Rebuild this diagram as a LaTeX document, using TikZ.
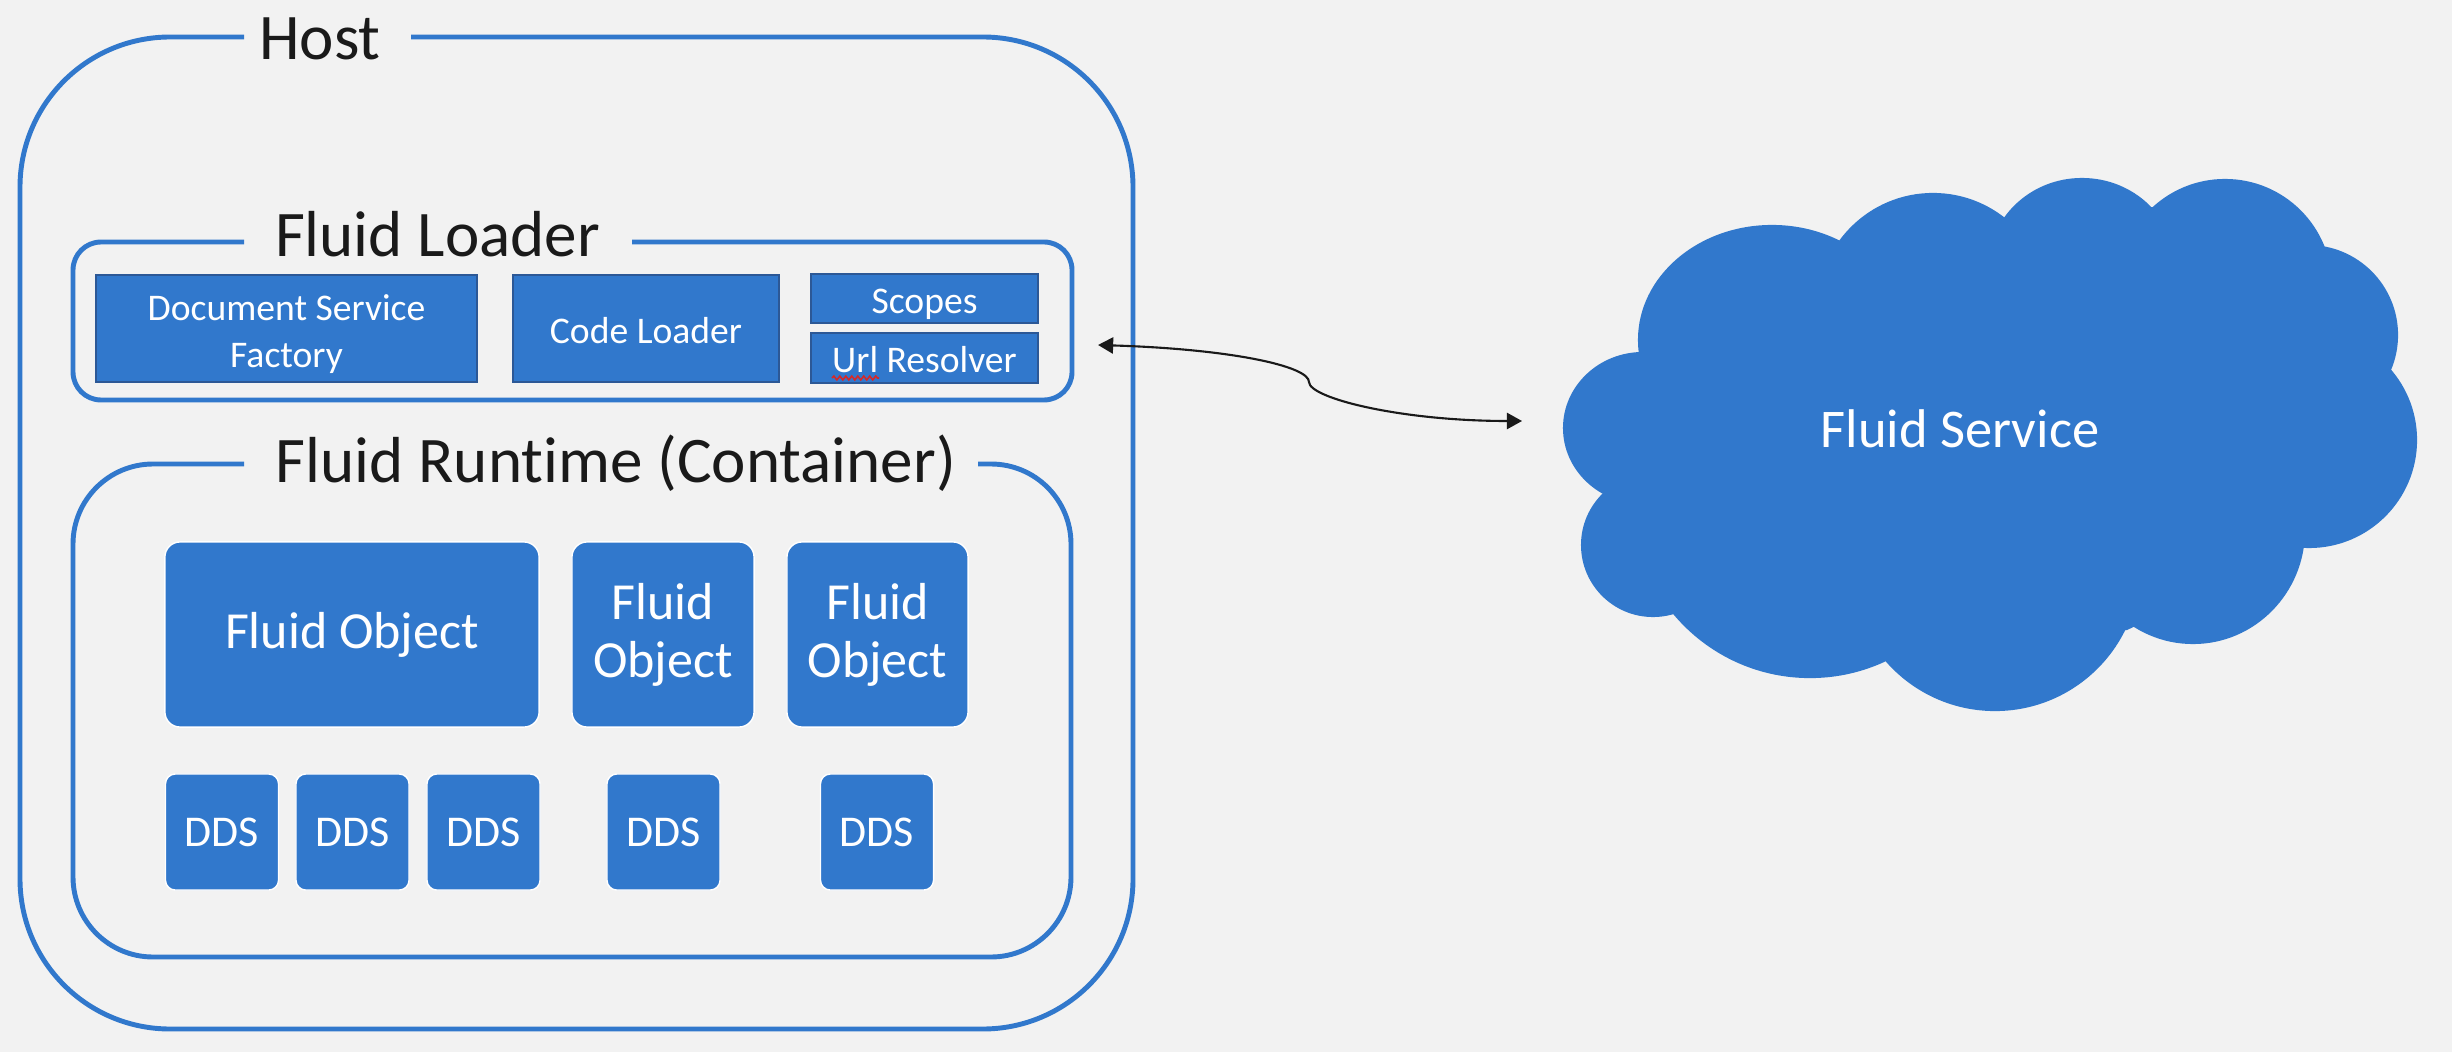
\documentclass[tikz,border=0pt]{standalone}
\usepackage{fontspec}
\setmainfont{Carlito}[Ligatures=NoCommon]
\usetikzlibrary{arrows.meta,decorations.pathmorphing}
\definecolor{fblue}{RGB}{49,120,204}
\definecolor{fdark}{RGB}{44,88,150}
\definecolor{fbg}{RGB}{242,242,242}
\definecolor{ftext}{RGB}{26,26,26}
\definecolor{fred}{RGB}{215,40,40}
\begin{document}
\begin{tikzpicture}[x=0.01cm,y=-0.01cm,
  frame/.style={draw=fblue,line width=1.4pt},
  title/.style={anchor=base,inner sep=0pt,text=ftext,font=\fontsize{18.5}{22}\selectfont},
  loaderbox/.style={draw=fdark,line width=0.6pt,fill=fblue,text=white,inner sep=0pt,align=center,
    text height=8.3pt,text depth=0pt,font=\fontsize{10.7}{13.4}\selectfont},
  boxtext/.style={text=white,inner sep=0pt,align=center,font=\fontsize{10.7}{13.4}\selectfont},
  fobox/.style={draw=white,line width=0.4pt,fill=fblue,text=white,rounded corners=4.3pt,inner sep=0pt,
    align=center,minimum height=1.85cm,font=\fontsize{14.8}{16.5}\selectfont},
  ddsbox/.style={draw=white,line width=0.4pt,fill=fblue,text=white,rounded corners=2.8pt,inner sep=0pt,
    minimum width=1.13cm,minimum height=1.16cm,font=\fontsize{12.5}{15}\selectfont},
  link/.style={draw=ftext,line width=0.6pt,{Triangle[length=4.3pt,width=4.6pt]}-{Triangle[length=4.3pt,width=4.6pt]}}
]
% background / bounding box
\fill[fbg] (0,0) rectangle (2452,1052);
\useasboundingbox (0,0) rectangle (2452,1052);

% Host container
\draw[frame,rounded corners=1.5cm] (411,37) -- (1133,37) -- (1133,1029) -- (20,1029) -- (20,37) -- (244,37);
\node[title] (host) at (320,60) {Host};

% Fluid Loader container
\draw[frame,rounded corners=0.28cm] (632,242) -- (1072,242) -- (1072,400) -- (73,400) -- (73,242) -- (244,242);
\node[title] (loadertitle) at (437.5,257) {Fluid Loader};

\node[loaderbox,minimum width=3.81cm,minimum height=1.07cm] (dsf) at (286.5,328.5) {};
\node[boxtext] (dsftext) at ([yshift=-1.7pt]dsf.center) {Document Service\\Factory};
\node[loaderbox,minimum width=2.66cm,minimum height=1.07cm] (codeloader) at (646,328.5) {Code Loader};
\node[loaderbox,minimum width=2.27cm,minimum height=0.49cm] (scopes) at (924.5,298.5) {Scopes};
\node[loaderbox,minimum width=2.27cm,minimum height=0.50cm] (urlres) at (924.5,358) {Url Resolver};
\draw[fred,line width=0.45pt,decorate,decoration={snake,amplitude=0.55pt,segment length=1.7pt}]
  (832,378) -- (879,378);

% Fluid Runtime container
\draw[frame,rounded corners=0.8cm] (978,464) -- (1071,464) -- (1071,957) -- (73,957) -- (73,464) -- (244,464);
\node[title] (runtimetitle) at (616,482) {Fluid Runtime (Container)};

\node[fobox,minimum width=3.74cm] (fo1) at (352,634.5) {Fluid Object};
\node[fobox,minimum width=1.82cm] (fo2) at (663,634.5) {Fluid\\Object};
\node[fobox,minimum width=1.81cm] (fo3) at (877.5,634.5) {Fluid\\Object};

\node[ddsbox] (dds1) at (222,832) {DDS};
\node[ddsbox] (dds2) at (352.5,832) {DDS};
\node[ddsbox] (dds3) at (483.5,832) {DDS};
\node[ddsbox] (dds4) at (663.5,832) {DDS};
\node[ddsbox] (dds5) at (877,832) {DDS};

% Cloud: union of lobes and a core polygon through the cusps
\begin{scope}[fblue]
  \fill (1604,491) -- (1639,355) -- (1839,241) -- (2007,218) -- (2153,207) -- (2320,246)
     -- (2390,367) -- (2303,548) -- (2127,630) -- (1888,660) -- (1678,613) -- cycle;
  \fill (1643,428) ellipse [x radius=0.80cm, y radius=0.76cm];
  \fill (1772,340) ellipse [x radius=1.34cm, y radius=1.15cm];
  \fill (1933,309) circle [radius=1.16cm];
  \fill (2082,268) ellipse [x radius=0.94cm, y radius=0.90cm];
  \fill (2225,286) circle [radius=1.07cm];
  \fill (2308,335) circle [radius=0.90cm];
  \fill (2309,440) circle [radius=1.08cm];
  \fill (2193,530) ellipse [x radius=1.12cm, y radius=1.14cm];
  \fill (1995,566) circle [radius=1.45cm];
  \fill (1810,500) circle [radius=1.78cm];
  \fill (1653,545) circle [radius=0.72cm];
\end{scope}
\node[anchor=base,inner sep=0pt,text=white,font=\fontsize{15.5}{18}\selectfont] (service) at (1960,447) {Fluid Service};

% Connector between loader and service
\coordinate (arrL) at (1098,345);
\coordinate (arrR) at (1522,421);
\draw[link] (arrL) .. controls (1230,349) and (1309,366) .. (1309,382)
  .. controls (1309,398) and (1400,421) .. (arrR);
\end{tikzpicture}
\end{document}
